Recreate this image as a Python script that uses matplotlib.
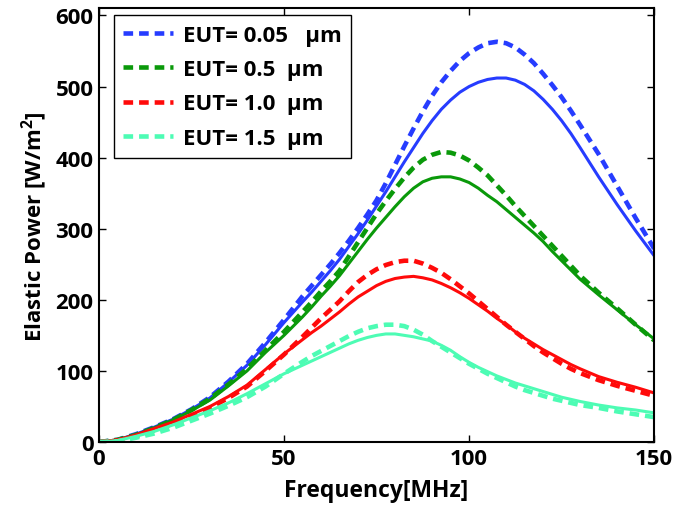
import numpy as np
import matplotlib
matplotlib.use('Agg')
import matplotlib.pyplot as plt

plt.rcParams['font.family'] = ['Open Sans', 'DejaVu Sans']
plt.rcParams['font.weight'] = 'bold'
plt.rcParams['mathtext.fontset'] = 'custom'
plt.rcParams['mathtext.bf'] = 'Open Sans:bold'

# frequency grid [MHz] (finer around the peaks)
freq = [0, 5, 10, 15, 20, 25, 30, 35, 40, 45, 50, 55,
        57.5, 60, 62.5, 65, 67.5, 70, 72.5, 75, 77.5, 80, 82.5, 85, 87.5, 90, 92.5,
        95, 97.5, 100, 102.5, 105, 107.5, 110, 112.5, 115, 117.5, 120, 122.5, 125, 127.5,
        130, 135, 140, 145, 150]

# elastic power [W/m^2], solid lines
p005_solid = [0, 3, 11, 21, 32, 46, 62, 84, 108, 137, 168, 197,
              211, 226, 241, 257, 275, 293, 312, 332, 352, 373, 394, 414, 434, 452, 468,
              481, 492, 500, 506, 510, 512, 512, 509, 503, 494, 482, 468, 452, 434,
              414, 373, 334, 297, 262]
p05_solid = [0, 3, 10, 20, 31, 44, 59, 79, 100, 126, 150, 176,
             190, 205, 219, 234, 251, 268, 285, 301, 316, 331, 345, 357, 366, 371, 373,
             373, 370, 365, 357, 347, 338, 327, 316, 305, 294, 282, 268, 255, 242,
             229, 207, 186, 165, 145]
p10_solid = [0, 3, 10, 19, 28, 39, 50, 64, 80, 102, 124, 144,
             154, 163, 173, 183, 194, 204, 212, 220, 226, 230, 232, 233, 231, 228, 223,
             217, 210, 202, 193, 184, 174, 165, 155, 146, 138, 130, 123, 116, 109,
             103, 92, 84, 77, 69]
p15_solid = [0, 2, 8, 15, 24, 34, 44, 55, 68, 82, 96, 108,
             114, 120, 126, 132, 138, 143, 147, 150, 152, 152, 150, 148, 145, 142, 136,
             129, 120, 112, 105, 99, 93, 88, 83, 79, 75, 71, 67, 63, 60,
             57, 52, 48, 45, 41]

# elastic power [W/m^2], dashed lines
p005_dash = [0, 3, 11, 21, 32, 46, 63, 85, 110, 140, 172, 205,
             220, 235, 250, 266, 283, 301, 320, 340, 364, 390, 416, 441, 465, 487, 506,
             522, 536, 547, 555, 561, 563, 561, 555, 545, 533, 518, 502, 485, 466,
             446, 405, 360, 315, 272]
p05_dash = [0, 3, 10, 20, 31, 45, 61, 81, 103, 129, 155, 183,
            197, 212, 226, 241, 261, 281, 301, 321, 339, 356, 372, 386, 397, 404, 408,
            407, 403, 396, 386, 375, 361, 347, 332, 318, 304, 290, 276, 262, 248,
            234, 210, 188, 165, 143]
p10_dash = [0, 2, 8, 16, 25, 36, 48, 62, 78, 100, 123, 148,
            161, 174, 186, 198, 212, 225, 235, 243, 249, 253, 255, 255, 251, 245, 238,
            229, 219, 209, 198, 187, 176, 165, 155, 145, 135, 126, 118, 110, 103,
            97, 87, 79, 72, 65]
p15_dash = [0, 1, 6, 12, 20, 30, 40, 51, 63, 78, 96, 113,
            121, 128, 135, 142, 149, 155, 160, 163, 165, 165, 163, 158, 151, 142, 134,
            126, 118, 110, 103, 96, 90, 84, 78, 73, 69, 65, 61, 58, 55,
            52, 48, 43, 39, 35]

labels = ['EUT= 0.05   \u03bcm', 'EUT= 0.5  \u03bcm', 'EUT= 1.0  \u03bcm', 'EUT= 1.5  \u03bcm']
colors = ['#263cff', '#0a990a', '#ff0a0a', '#4dfcb4']

fig = plt.figure(figsize=(6.73, 5.06), dpi=100)
ax = fig.add_axes([0.147, 0.1245, 0.825, 0.857])

solids = [p005_solid, p05_solid, p10_solid, p15_solid]
dashes = [p005_dash, p05_dash, p10_dash, p15_dash]
handles = []
for s, d, c, lab in zip(solids, dashes, colors, labels):
    ax.plot(freq, s, color=c, lw=2.2, solid_capstyle='butt')
    h, = ax.plot(freq, d, color=c, lw=3.3, linestyle=(0, (2.1, 1.3)),
                 dash_capstyle='butt', label=lab)
    handles.append(h)

ax.set_xlim(0, 150)
ax.set_ylim(0, 610)
ax.set_xticks([0, 50, 100, 150])
ax.set_yticks([0, 100, 200, 300, 400, 500, 600])
ax.tick_params(direction='in', length=5, width=1, top=True, right=True,
               labelsize=16, pad=4)
for sp in ax.spines.values():
    sp.set_linewidth(1.5)

ax.set_xlabel('Frequency[MHz]', fontsize=16.5, fontweight='bold', labelpad=7)
ax.set_ylabel('Elastic Power [W/m$^\\mathbf{2}$]', fontsize=16, fontweight='bold', labelpad=4)

leg = ax.legend(handles=handles, loc='upper left', bbox_to_anchor=(0.027, 0.984),
                borderaxespad=0, fontsize=16, handlelength=2.25, handletextpad=0.45,
                labelspacing=0.6, borderpad=0.42, fancybox=False, framealpha=1)
leg.get_frame().set_edgecolor('black')
leg.get_frame().set_linewidth(1.0)

plt.savefig('out.png', dpi=100)
